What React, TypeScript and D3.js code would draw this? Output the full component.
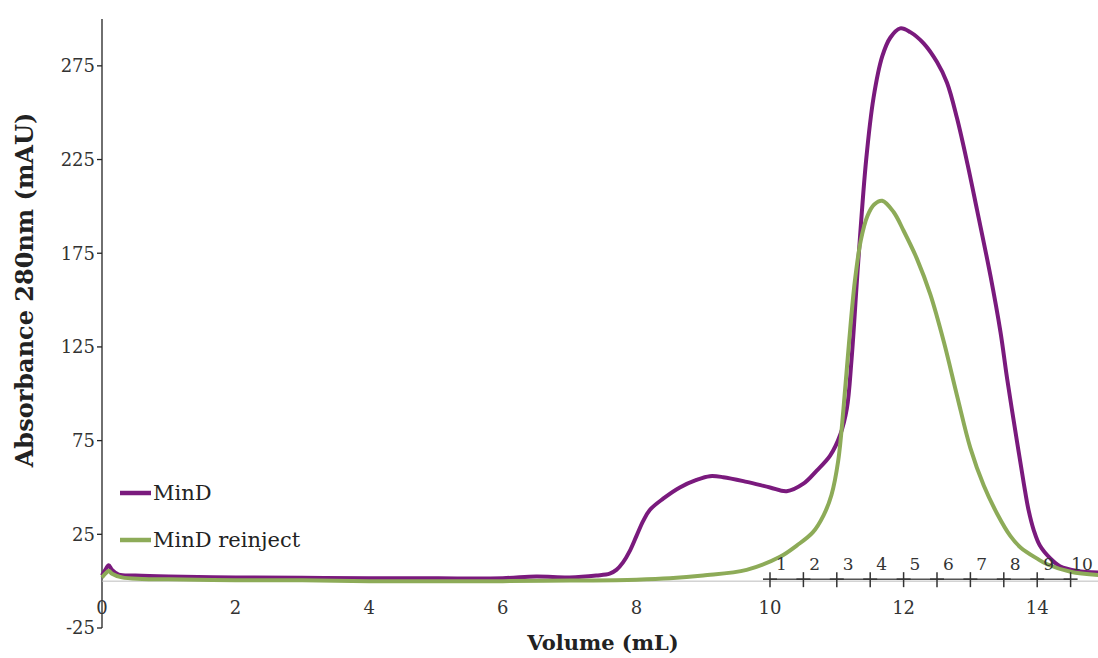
import React from "react";
import * as d3 from "d3";

// elution volume (mL) and absorbance (mAU)
const mindVol = [0, 0.05, 0.1, 0.15, 0.25, 0.5, 1, 2, 3, 4, 5, 6, 6.5, 7, 7.4, 7.6, 7.7, 7.8, 7.9, 8.0, 8.1, 8.2, 8.4, 8.65, 8.9, 9.1, 9.3, 9.65, 10.0, 10.25, 10.5, 10.7, 10.9, 11.05, 11.15, 11.22, 11.32, 11.44, 11.55, 11.68, 11.8, 11.95, 12.1, 12.3, 12.5, 12.65, 12.8, 12.96, 13.1, 13.3, 13.45, 13.55, 13.7, 13.8, 13.87, 13.95, 14.04, 14.2, 14.34, 14.6, 15];
const mindAbs = [3, 6, 8.5, 6, 3.5, 3, 2.5, 2, 1.8, 1.5, 1.5, 1.6, 2.5, 2, 3, 4, 6, 10, 16, 24, 32, 38, 44, 50, 54, 56, 55.5, 53, 50, 48, 52, 59, 67, 78, 92, 118, 170, 225, 258, 280, 290, 295, 293, 287, 277, 266, 247, 222, 198, 163, 133, 108, 74, 52, 38, 27, 19, 12, 8, 5.5, 4.5];

const reinjVol = [0, 0.05, 0.1, 0.15, 0.3, 0.6, 1, 2, 3, 4, 5, 6, 7, 8, 8.5, 9, 9.65, 10.15, 10.4, 10.64, 10.8, 10.92, 11.02, 11.1, 11.18, 11.27, 11.36, 11.46, 11.56, 11.68, 11.85, 12.0, 12.2, 12.4, 12.6, 12.8, 13.0, 13.2, 13.4, 13.6, 13.75, 14.0, 14.15, 14.5, 15];
const reinjAbs = [2, 4, 5.5, 4, 2, 1.2, 1, 0.5, 0.5, 0, 0, 0, 0.3, 0.8, 1.5, 3, 6, 13, 19, 26, 35, 46, 64, 92, 126, 160, 182, 195, 201, 203, 197, 187, 172, 153, 128, 99, 71, 51, 36, 24, 18, 12, 9, 5, 3];

const xTicks = [0, 2, 4, 6, 8, 10, 12, 14];
const yTicks = [-25, 25, 75, 125, 175, 225, 275];

// fraction collector markers
const fractionEdges = [10, 10.5, 11, 11.5, 12, 12.5, 13, 13.5, 14, 14.5];
const fractionLabels = ["1", "2", "3", "4", "5", "6", "7", "8", "9", "10"];

const series = [
  { name: "MinD", vol: mindVol, abs: mindAbs, color: "#7a1a7d" },
  { name: "MinD reinject", vol: reinjVol, abs: reinjAbs, color: "#8dab58" },
];

export default function App() {
  const width = 1098, height = 658;
  const x = d3.scaleLinear().domain([0, 15]).range([102, 1104]);
  const y = d3.scaleLinear().domain([-25, 300]).range([628, 19]);
  const font = "'DejaVu Serif', serif";

  const line = d3.line<[number, number]>()
    .x((d) => x(d[0]))
    .y((d) => y(d[1]))
    .curve(d3.curveCatmullRom.alpha(0.5));

  const y0 = y(0);

  return (
    <svg width={width} height={height} style={{ position: "absolute", left: 0, top: 0, background: "#fff" }}>
      {/* y axis */}
      <line x1={x(0)} x2={x(0)} y1={y(300)} y2={y(-25)} stroke="#222" strokeWidth={1.3} />
      {yTicks.map((t) => (
        <g key={t}>
          <line x1={x(0) - 5} x2={x(0)} y1={y(t)} y2={y(t)} stroke="#222" strokeWidth={1.3} />
          <text x={x(0) - 7} y={y(t)} dy="0.35em" textAnchor="end" fontFamily={font} fontSize={18} fill="#333">{t}</text>
        </g>
      ))}

      {/* x axis at zero */}
      <line x1={x(0)} x2={width} y1={y0} y2={y0} stroke="#bbb" strokeWidth={1} />
      {xTicks.map((t) => (
        <text key={t} x={x(t)} y={608} dy="0.35em" textAnchor="middle" fontFamily={font} fontSize={18} fill="#333">{t}</text>
      ))}

      {/* curves */}
      {series.map((s) => (
        <path key={s.name} d={line(s.vol.map((v, i) => [v, s.abs[i]]) as [number, number][]) || ""}
          fill="none" stroke={s.color} strokeWidth={4} strokeLinejoin="round" />
      ))}

      {/* fractions */}
      <line x1={x(fractionEdges[0])} x2={x(fractionEdges[fractionEdges.length - 1])} y1={y0 - 2} y2={y0 - 2} stroke="#555" strokeWidth={1.5} />
      {fractionEdges.map((f) => (
        <g key={f} stroke="#333" strokeWidth={1.5}>
          <line x1={x(f)} x2={x(f)} y1={y0 - 9} y2={y0 + 6} />
          <line x1={x(f) - 7} x2={x(f) + 7} y1={y0 - 2} y2={y0 - 2} />
        </g>
      ))}
      {fractionLabels.map((l, i) => (
        <text key={l} x={x(fractionEdges[i] + 0.17)} y={y0 - 11} textAnchor="middle" fontFamily={font} fontSize={17} fill="#333">{l}</text>
      ))}

      {/* legend */}
      {series.map((s, i) => (
        <g key={s.name} transform={`translate(120, ${493 + i * 47})`}>
          <line x1={0} x2={31} y1={0} y2={0} stroke={s.color} strokeWidth={4.5} />
          <text x={33} y={0} dy="0.35em" fontFamily={font} fontSize={21} fill="#222">{s.name}</text>
        </g>
      ))}

      {/* axis titles */}
      <text transform={`translate(25, 290) rotate(-90)`} textAnchor="middle" dy="0.35em" fontFamily={font} fontWeight="bold" fontSize={24} fill="#222">Absorbance 280nm (mAU)</text>
      <text x={603} y={643} textAnchor="middle" dy="0.35em" fontFamily={font} fontWeight="bold" fontSize={21} fill="#222">Volume (mL)</text>
    </svg>
  );
}
